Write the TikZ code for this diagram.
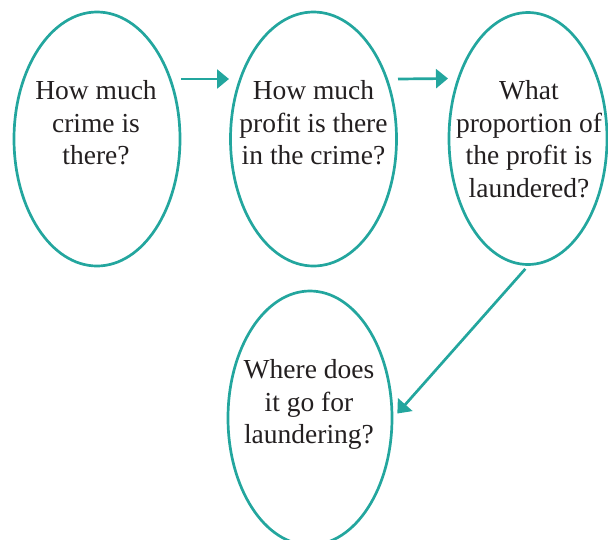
\documentclass[tikz,border=0pt]{standalone}
\usepackage{fontspec}
\setmainfont{Liberation Serif}
\usetikzlibrary{shapes.geometric,arrows.meta,calc}
\definecolor{bubbleteal}{RGB}{35,166,158}
\definecolor{ink}{RGB}{35,31,32}
\begin{document}
\begin{tikzpicture}[x=1pt,y=-1pt,
  bubble/.style={ellipse, draw=bubbleteal, line width=2.7pt, inner sep=0pt},
  question/.style={align=center, text=ink, inner sep=0pt, anchor=north,
    font=\fontsize{27.5}{32.5}\selectfont},
  flow/.style={draw=bubbleteal, line width=2.7pt,
    -{Triangle[length=12pt,width=19pt]}}]
\useasboundingbox (0,0) rectangle (608,539);

% the four question bubbles
\node[bubble, minimum width=166pt, minimum height=254pt] (e1) at (97,139) {};
\node[bubble, minimum width=166pt, minimum height=254pt] (e2) at (313.5,139) {};
\node[bubble, minimum width=158pt, minimum height=252pt] (e3) at (528,138.5) {};
\node[bubble, minimum width=164pt, minimum height=254pt] (e4) at (310,418) {};

% questions, set from the top of each bubble
\node[question] (t1) at (96,80.5) {How much\\crime is\\there?};
\node[question] (t2) at (313.5,80.5) {How much\\profit is there\\in the crime?};
\node[question] (t3) at (529,80.5) {What\\proportion of\\the profit is\\laundered?};
\node[question] (t4) at (309,359.5) {Where does\\it go for\\laundering?};

% connectors
\draw[flow] ($(e1.center)+(84,-60)$) -- ($(e2.center)+(-84.5,-60)$);
\draw[flow] ($(e2.center)+(84.5,-60)$) -- ($(e3.center)+(-80,-60)$);
\draw[flow, shorten <=4pt, shorten >=6pt] (e3.south) -- (e4.east);
\end{tikzpicture}
\end{document}
